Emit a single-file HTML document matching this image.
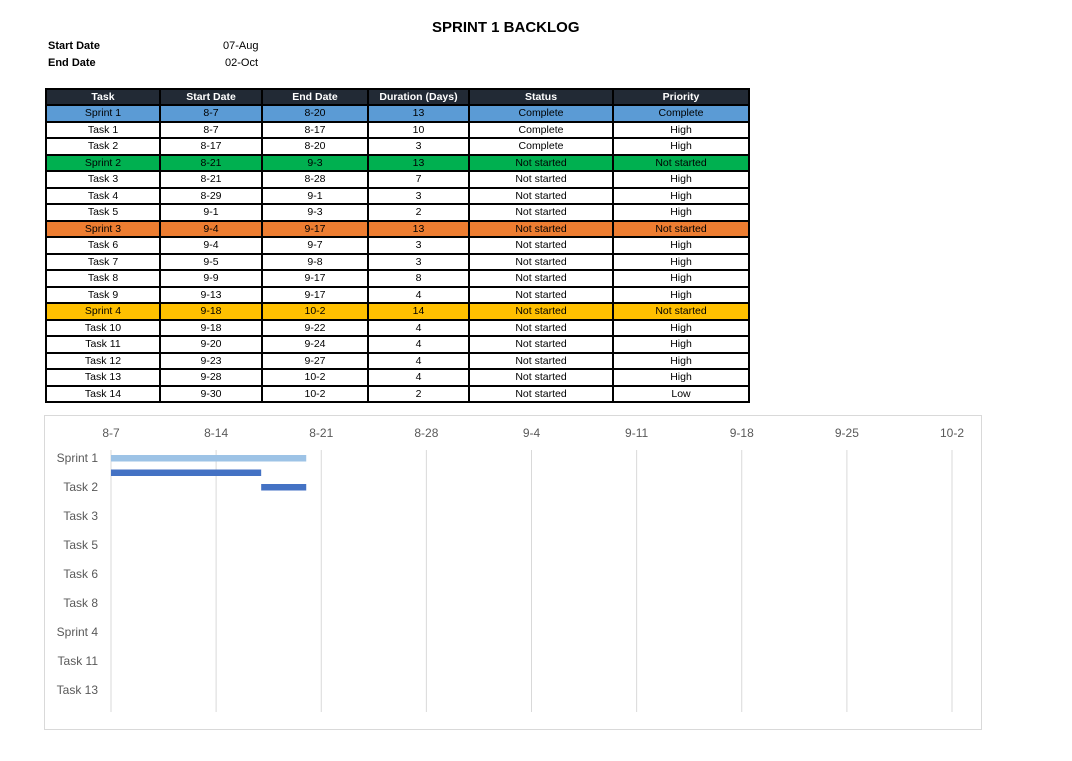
<!DOCTYPE html>
<html><head><meta charset="utf-8"><style>
body{margin:0;width:1072px;height:761px;background:#fff;font-family:"Liberation Sans",Calibri,sans-serif;position:relative;overflow:hidden}
.t{position:absolute;font-size:11px;color:#000}
table{position:absolute;left:45px;top:88px;border-collapse:collapse;font-size:10.5px}
td,th{border:2px solid #000;text-align:center;padding:0;height:14.5px;line-height:14px}
th{background:#222a35;color:#fff;font-weight:bold;height:14px}
.s1 td{background:#5b9bd5}.s2 td{background:#00b050}.s3 td{background:#ed7d31}.s4 td{background:#ffc000}
</style></head><body>
<div class="t" style="left:432px;top:19px;font-size:15px;font-weight:bold">SPRINT 1 BACKLOG</div>
<div class="t" style="left:48px;top:40px;font-weight:bold">Start Date</div>
<div class="t" style="left:223px;top:40px">07-Aug</div>
<div class="t" style="left:48px;top:57px;font-weight:bold">End Date</div>
<div class="t" style="left:225px;top:57px">02-Oct</div>
<table>
<colgroup><col style="width:114px"><col style="width:102px"><col style="width:106px"><col style="width:101px"><col style="width:144px"><col style="width:136px"></colgroup>
<tr><th>Task</th><th>Start Date</th><th>End Date</th><th>Duration (Days)</th><th>Status</th><th>Priority</th></tr>
<tr class="s1"><td>Sprint 1</td><td>8-7</td><td>8-20</td><td>13</td><td>Complete</td><td>Complete</td></tr>
<tr><td>Task 1</td><td>8-7</td><td>8-17</td><td>10</td><td>Complete</td><td>High</td></tr>
<tr><td>Task 2</td><td>8-17</td><td>8-20</td><td>3</td><td>Complete</td><td>High</td></tr>
<tr class="s2"><td>Sprint 2</td><td>8-21</td><td>9-3</td><td>13</td><td>Not started</td><td>Not started</td></tr>
<tr><td>Task 3</td><td>8-21</td><td>8-28</td><td>7</td><td>Not started</td><td>High</td></tr>
<tr><td>Task 4</td><td>8-29</td><td>9-1</td><td>3</td><td>Not started</td><td>High</td></tr>
<tr><td>Task 5</td><td>9-1</td><td>9-3</td><td>2</td><td>Not started</td><td>High</td></tr>
<tr class="s3"><td>Sprint 3</td><td>9-4</td><td>9-17</td><td>13</td><td>Not started</td><td>Not started</td></tr>
<tr><td>Task 6</td><td>9-4</td><td>9-7</td><td>3</td><td>Not started</td><td>High</td></tr>
<tr><td>Task 7</td><td>9-5</td><td>9-8</td><td>3</td><td>Not started</td><td>High</td></tr>
<tr><td>Task 8</td><td>9-9</td><td>9-17</td><td>8</td><td>Not started</td><td>High</td></tr>
<tr><td>Task 9</td><td>9-13</td><td>9-17</td><td>4</td><td>Not started</td><td>High</td></tr>
<tr class="s4"><td>Sprint 4</td><td>9-18</td><td>10-2</td><td>14</td><td>Not started</td><td>Not started</td></tr>
<tr><td>Task 10</td><td>9-18</td><td>9-22</td><td>4</td><td>Not started</td><td>High</td></tr>
<tr><td>Task 11</td><td>9-20</td><td>9-24</td><td>4</td><td>Not started</td><td>High</td></tr>
<tr><td>Task 12</td><td>9-23</td><td>9-27</td><td>4</td><td>Not started</td><td>High</td></tr>
<tr><td>Task 13</td><td>9-28</td><td>10-2</td><td>4</td><td>Not started</td><td>High</td></tr>
<tr><td>Task 14</td><td>9-30</td><td>10-2</td><td>2</td><td>Not started</td><td>Low</td></tr>
</table>
<svg id="chart" style="position:absolute;left:0;top:0" width="1072" height="761"></svg>
<script>
const categories=["Sprint 1","Task 1","Task 2","Sprint 2","Task 3","Task 4","Task 5","Sprint 3","Task 6","Task 7","Task 8","Task 9","Sprint 4","Task 10","Task 11","Task 12","Task 13","Task 14"];
const startDays=[0,0,10,14,14,22,25,28,28,29,33,37,42,42,44,47,52,54];
const durations=[13,10,3,13,7,3,2,13,3,3,8,4,14,4,4,4,4,2];
const barColors=["#9dc3e6","#4472c4","#4472c4","none","none","none","none","none","none","none","none","none","none","none","none","none","none","none"];
const tickDays=[0,7,14,21,28,35,42,49,56];
const tickLabels=["8-7","8-14","8-21","8-28","9-4","9-11","9-18","9-25","10-2"];
const svg=document.getElementById('chart');const NS='http://www.w3.org/2000/svg';
const x=d=>111+d*(841/56);const y=i=>458+i*(232/16);
function el(t,a){const e=document.createElementNS(NS,t);for(const k in a)e.setAttribute(k,a[k]);svg.appendChild(e);return e;}
const box=el('rect',{x:44.5,y:415.5,width:937,height:314,fill:'#fff',stroke:'#d9d9d9'});


tickDays.forEach((d,i)=>{
 const g=el('line',{x1:x(d),x2:x(d),y1:450,y2:712,stroke:'#d9d9d9'});
 
 
 const t=el('text',{x:x(d),y:437,'text-anchor':'middle','font-size':12,fill:'#595959','font-family':'Liberation Sans, sans-serif'});
 t.textContent=tickLabels[i];
 
 
});
categories.forEach((c,i)=>{
 if(i%2===0){const t=el('text',{x:98,y:y(i)+4,'text-anchor':'end','font-size':12,fill:'#595959','font-family':'Liberation Sans, sans-serif'});
 t.textContent=c;
 
 }
 const b=el('rect',{x:x(startDays[i]),y:y(i)-3,width:x(startDays[i]+durations[i])-x(startDays[i]),height:6.5,fill:barColors[i]});
 
 
});
</script>
</body></html>
